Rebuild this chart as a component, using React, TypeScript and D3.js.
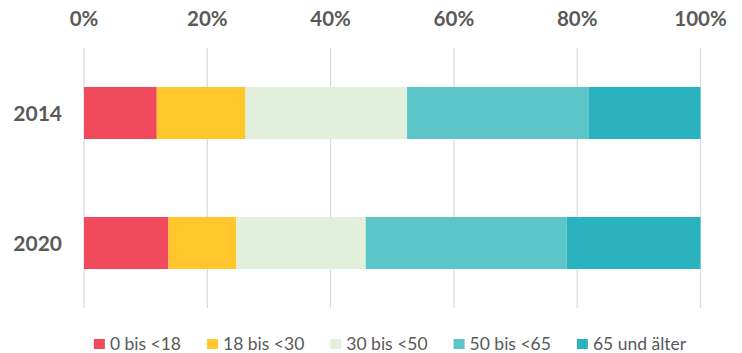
import React, { useMemo } from "react";
import * as d3 from "d3";

const years = ["2014", "2020"];
const ageGroups = ["0 bis <18", "18 bis <30", "30 bis <50", "50 bis <65", "65 und älter"];
const share2014 = [11.8, 14.4, 26.2, 29.5, 18.1];
const share2020 = [13.7, 11.0, 21.0, 32.6, 21.7];
const groupColors = ["#F04A5C", "#FFC72C", "#E2EFDA", "#5BC5C8", "#2AB3BE"];
const tickValues = [0, 20, 40, 60, 80, 100];

const W = 742;
const H = 353;
const textColor = "#595959";
const fontFamily = "Lato, 'Open Sans', sans-serif";
const legendSize = 17.5;

function measure(text: string, font: string): number {
  const c = document.createElement("canvas").getContext("2d");
  if (!c) return text.length * 8;
  c.font = font;
  return c.measureText(text).width;
}

export default function App() {
  const x = d3.scaleLinear().domain([0, 100]).range([84, 700.5]);
  const y = d3.scaleBand<string>().domain(years).range([48, 308]).paddingInner(0.6).paddingOuter(0.3);

  const rows = [share2014, share2020].map((vals, i) => {
    const ends = d3.cumsum(vals);
    return vals.map((v, j) => ({
      year: years[i],
      group: j,
      x0: ends[j] - v,
      x1: ends[j],
    }));
  });

  const legendItems = useMemo(() => {
    const sq = 11;
    const gap = 5;
    const spacing = 26;
    const widths = ageGroups.map((g) => measure(g, `${legendSize}px Lato`));
    const total = widths.reduce((a, w) => a + sq + gap + w, 0) + spacing * (ageGroups.length - 1);
    let cx = 390 - total / 2;
    return ageGroups.map((g, i) => {
      const item = { label: g, x: cx, color: groupColors[i] };
      cx += sq + gap + widths[i] + spacing;
      return item;
    });
  }, []);

  return (
    <svg
      width={W}
      height={H}
      style={{ display: "block", position: "fixed", left: 0, top: 0, background: "#fff" }}
    >
      {/* vertical grid */}
      {tickValues.map((t) => (
        <line key={"g" + t} x1={x(t)} x2={x(t)} y1={48} y2={308} stroke="#D9D9D9" strokeWidth={1.2} />
      ))}
      {/* top axis labels */}
      {tickValues.map((t) => (
        <text
          key={"t" + t}
          x={x(t)}
          y={26}
          textAnchor="middle"
          fontFamily={fontFamily}
          fontWeight={700}
          fontSize={20.5}
          fill={textColor}
        >
          {t}%
        </text>
      ))}
      {/* stacked bars */}
      {rows.map((row) =>
        row.map((seg) => (
          <rect
            key={seg.year + seg.group}
            x={x(seg.x0)}
            width={x(seg.x1) - x(seg.x0)}
            y={y(seg.year)}
            height={y.bandwidth()}
            fill={groupColors[seg.group]}
          />
        ))
      )}
      {/* category labels */}
      {years.map((yr) => (
        <text
          key={"y" + yr}
          x={62}
          y={(y(yr) as number) + y.bandwidth() / 2 + 8}
          textAnchor="end"
          fontFamily={fontFamily}
          fontWeight={700}
          fontSize={21}
          fill={textColor}
        >
          {yr}
        </text>
      ))}
      {/* legend */}
      {legendItems.map((it) => (
        <g key={it.label} transform={`translate(${it.x},0)`}>
          <rect x={0} y={339} width={11} height={10} fill={it.color} />
          <text x={16} y={350} fontFamily={fontFamily} fontSize={legendSize} fill={textColor}>
            {it.label}
          </text>
        </g>
      ))}
    </svg>
  );
}
